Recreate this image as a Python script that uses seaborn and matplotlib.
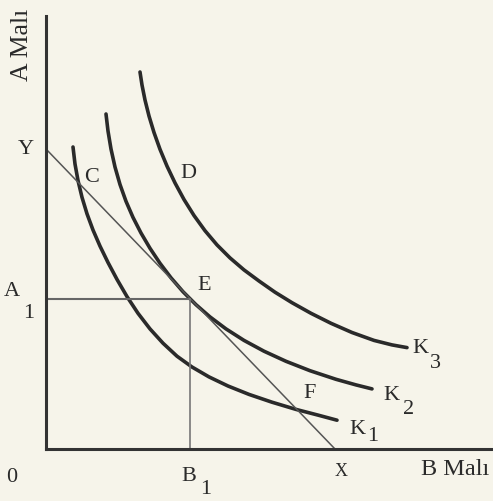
import matplotlib
matplotlib.use("Agg")
import matplotlib.pyplot as plt
import seaborn as sns
import pandas as pd

# ---- data (in chart units; origin at the axes corner) ----
k1_x = [27, 29, 32, 36, 41, 47, 54, 62, 71, 81, 92, 104, 117, 131, 146, 163,
        182, 203, 226, 250, 272, 291]
k1_y = [302, 285, 268.5, 251.7, 235.2, 219, 202.9, 186.5, 169.6, 152.4, 135.7,
        120.1, 105.8, 92.8, 82, 72.1, 63, 54.6, 46.8, 39.6, 33.9, 28.8]

k2_x = [60, 62, 65, 69, 74, 80, 87, 95, 104, 114, 125, 137, 150, 164, 180, 198,
        218, 240, 264, 290, 310, 326]
k2_y = [335, 318, 300, 282, 264.5, 247.7, 231.6, 216, 200.7, 185.7, 171.2,
        157.3, 144.3, 132.1, 120.1, 108.6, 97.8, 87.7, 78.3, 69.7, 64.1, 60.1]

k3_x = [94, 96, 99, 103, 108, 114, 121, 129, 138, 148, 159, 171, 184, 198, 213,
        229, 246, 265, 285, 306, 328, 346, 361]
k3_y = [377, 364, 349, 333, 316.5, 299.7, 282.9, 266.1, 249.5, 233.5, 218.3,
        204.1, 191.1, 179.1, 168, 156.8, 146.3, 135.7, 125.7, 116.5, 108.6,
        104.1, 101.4]

budget_x = [0, 289]
budget_y = [300, 0]

e_x = 144
e_y = 150

curve_names = ["K1", "K2", "K3"]

rows = []
for name, xs, ys in zip(curve_names, [k1_x, k2_x, k3_x], [k1_y, k2_y, k3_y]):
    for i, (a, b) in enumerate(zip(xs, ys)):
        rows.append({"curve": name, "order": i, "x": a, "y": b})
df = pd.DataFrame(rows)

# ---- figure ----
sns.set_theme(style="white")
plt.rcParams["font.family"] = ["Liberation Serif", "DejaVu Serif"]

W, H = 493, 502
BG = "#f6f4ea"
fig = plt.figure(figsize=(W / 100, H / 100), dpi=100, facecolor=BG)
L, R, T, B = 46, 493, 17, 450
ax = fig.add_axes([L / W, (H - B) / H, (R - L) / W, (B - T) / H])
ax.set_facecolor(BG)
ax.set_xlim(0, R - L)
ax.set_ylim(0, B - T)

for name in curve_names:
    sub = df[df["curve"] == name]
    sns.lineplot(data=sub, x="x", y="y", sort=False, estimator=None, ax=ax,
                 color="#2a2a2a", linewidth=2.6, solid_capstyle="round",
                 solid_joinstyle="round", legend=False)

sns.lineplot(x=budget_x, y=budget_y, sort=False, estimator=None, ax=ax,
             color="#555555", linewidth=1.1, legend=False)
sns.lineplot(x=[0, e_x], y=[e_y, e_y], sort=False, estimator=None, ax=ax,
             color="#666666", linewidth=1.5, legend=False)
sns.lineplot(x=[e_x, e_x], y=[0, e_y], sort=False, estimator=None, ax=ax,
             color="#777777", linewidth=1.2, legend=False)

ax.set_xlabel("")
ax.set_ylabel("")
ax.set_xticks([])
ax.set_yticks([])
for s in ["top", "right"]:
    ax.spines[s].set_visible(False)
for s in ["left", "bottom"]:
    ax.spines[s].set_color("#333333")
    ax.spines[s].set_linewidth(2.2)


def px(x, y):
    return x - L, B - y


TC = "#2a2a2a"
FS = 16


def lab(s, x, y, fs=FS, **kw):
    ax.text(*px(x, y), s, fontsize=fs, color=TC, ha="center", va="center",
            clip_on=False, **kw)


lab("Y", 26, 149)
lab("C", 92, 177)
lab("D", 188, 173)
lab("A", 12, 291)
lab("1", 29, 314)
lab("E", 204, 286)
lab("F", 310, 394)
lab("K", 420, 349)
lab("3", 435, 364)
lab("K", 391, 396)
lab("2", 409, 410)
lab("K", 357, 430)
lab("1", 373, 437)
lab("0", 12, 478)
lab("B", 189, 477)
lab("1", 206, 490)
lab("X", 341, 472, fs=13)

ax.text(*px(421, 470), "B Malı", fontsize=17.5, color=TC, ha="left",
        va="center", clip_on=False)
ax.text(*px(22, 81), "A Malı", fontsize=18.5, color=TC, ha="center",
        va="bottom", rotation=90, clip_on=False)

fig.savefig("out.png", dpi=100, facecolor=BG)
